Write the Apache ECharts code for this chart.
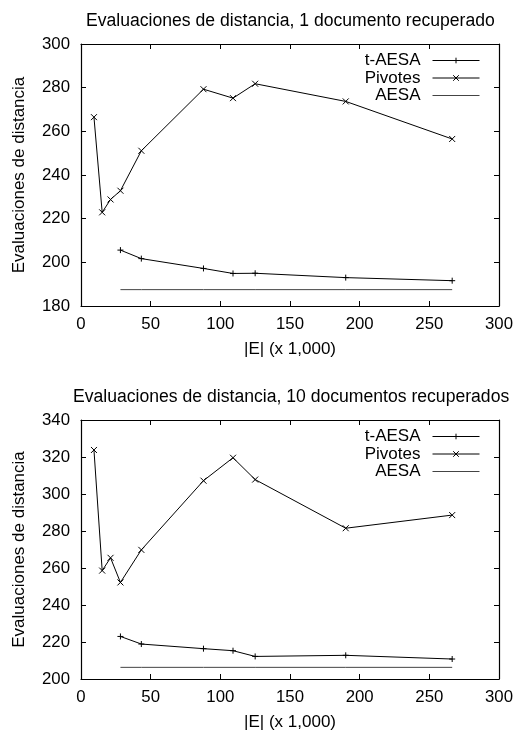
<!DOCTYPE html>
<html>
<head>
<meta charset="utf-8">
<script src="https://cdn.jsdelivr.net/npm/echarts@6/dist/echarts.min.js"></script>
<style>
  html, body { margin: 0; padding: 0; background: #fff; }
  #chart { width: 516px; height: 732px; }
</style>
</head>
<body>
<div id="chart"></div>
<script>
// |E| in thousands, for each run
const xPivotes = [9.3, 15.2, 21.2, 28.3, 43.3, 87.9, 109.1, 125, 190, 266.4];
const xTAesa = [28.3, 43.3, 87.9, 109.1, 125, 190, 266.4];

// 1 documento recuperado
const pivotes1 = [266.5, 222.9, 228.8, 232.8, 251.1, 279.3, 275.2, 281.8, 273.7, 256.5];
const tAesa1 = [205.6, 201.7, 197.2, 194.9, 195.0, 193.0, 191.6];
const aesa1 = [187.5, 187.5, 187.5, 187.5, 187.5, 187.5, 187.5];

// 10 documentos recuperados
const pivotes10 = [323.8, 258.6, 265.5, 252.2, 269.8, 307.2, 319.6, 307.8, 281.5, 288.6];
const tAesa10 = [223.0, 218.9, 216.4, 215.3, 212.2, 212.8, 210.8];
const aesa10 = [206.3, 206.3, 206.3, 206.3, 206.3, 206.3, 206.3];

const titles = [
  'Evaluaciones de distancia, 1 documento recuperado',
  'Evaluaciones de distancia, 10 documentos recuperados'
];
const xTicks = { min: 0, max: 300, interval: 50 };
const yTicks = [
  { min: 180, max: 300, interval: 20 },
  { min: 200, max: 340, interval: 20 }
];
const xName = '|E| (x 1,000)';
const yName = 'Evaluaciones de distancia';
const seriesNames = ['t-AESA', 'Pivotes', 'AESA'];

const FONT = 'Liberation Sans, Arial, Helvetica, sans-serif';
const FS = 17;
const TICK_FS = 16.8;
const BLACK = '#000';

const plusPath = 'path://M0,5L10,5M5,0L5,10';
const crossPath = 'path://M0,0L10,10M0,10L10,0';
// plain dash inside a 10x10 box, so the legend sample shows only the line
const dashPath = 'path://M0,0M0,5L10,5M10,10';

const grids = [
  { left: 81, right: 15, top: 44, height: 262 },
  { left: 81, right: 15, top: 420, height: 259 }
];

function pair(xs, ys) { return xs.map((x, i) => [x, ys[i]]); }

const xAxes = [];
const yAxes = [];
grids.forEach((g, gi) => {
  // bottom axis with labels, top mirror with ticks only
  xAxes.push({
    type: 'value', gridIndex: gi, position: 'bottom',
    min: xTicks.min, max: xTicks.max, interval: xTicks.interval,
    name: xName, nameLocation: 'middle', nameGap: 35,
    nameTextStyle: { color: BLACK, fontSize: FS, fontFamily: FONT },
    axisLine: { show: true, lineStyle: { color: BLACK, width: 1.2 } },
    axisTick: { show: true, inside: true, length: 5, lineStyle: { color: BLACK } },
    axisLabel: { color: BLACK, fontSize: TICK_FS, fontFamily: FONT, margin: 10 },
    splitLine: { show: false }
  });
  xAxes.push({
    type: 'value', gridIndex: gi, position: 'top',
    min: xTicks.min, max: xTicks.max, interval: xTicks.interval,
    axisLine: { show: true, onZero: false, lineStyle: { color: BLACK, width: 1.2 } },
    axisTick: { show: true, inside: true, length: 5, lineStyle: { color: BLACK } },
    axisLabel: { show: false },
    splitLine: { show: false }
  });
  // left axis with labels, right mirror with ticks only
  yAxes.push({
    type: 'value', gridIndex: gi, position: 'left',
    min: yTicks[gi].min, max: yTicks[gi].max, interval: yTicks[gi].interval,
    name: yName, nameLocation: 'middle', nameGap: 53, nameRotate: 90,
    nameTextStyle: { color: BLACK, fontSize: FS, fontFamily: FONT },
    axisLine: { show: true, onZero: false, lineStyle: { color: BLACK, width: 1.2 } },
    axisTick: { show: true, inside: true, length: 5, lineStyle: { color: BLACK } },
    axisLabel: { color: BLACK, fontSize: TICK_FS, fontFamily: FONT, margin: 11 },
    splitLine: { show: false }
  });
  yAxes.push({
    type: 'value', gridIndex: gi, position: 'right',
    min: yTicks[gi].min, max: yTicks[gi].max, interval: yTicks[gi].interval,
    axisLine: { show: true, onZero: false, lineStyle: { color: BLACK, width: 1.2 } },
    axisTick: { show: true, inside: true, length: 5, lineStyle: { color: BLACK } },
    axisLabel: { show: false },
    splitLine: { show: false }
  });
});

function lineSeries(name, data, gi, symbol, showSymbol, color) {
  return {
    name: name, type: 'line', data: data,
    xAxisIndex: gi * 2, yAxisIndex: gi * 2,
    symbol: symbol, symbolSize: 6, showSymbol: showSymbol,
    lineStyle: { color: color, width: 1 },
    itemStyle: { color: color, borderColor: color, borderWidth: 1 },
    emphasis: { disabled: true },
    z: 3
  };
}

const panels = [
  { t: tAesa1, p: pivotes1, a: aesa1 },
  { t: tAesa10, p: pivotes10, a: aesa10 }
];
const series = [];
panels.forEach((d, gi) => {
  series.push(lineSeries(seriesNames[0], pair(xTAesa, d.t), gi, plusPath, true, BLACK));
  series.push(lineSeries(seriesNames[1], pair(xPivotes, d.p), gi, crossPath, true, BLACK));
  series.push(lineSeries(seriesNames[2], pair(xTAesa, d.a), gi, dashPath, false, '#444'));
});

const legendTops = [52, 428];
const legends = legendTops.map(top => ({
  data: seriesNames, orient: 'vertical', align: 'right',
  right: 36, top: top, padding: 0,
  itemWidth: 47, itemHeight: 7, itemGap: 0.5,
  selectedMode: false,
  lineStyle: { width: 1 },
  itemStyle: { borderWidth: 1 },
  textStyle: { color: BLACK, fontSize: FS, fontFamily: FONT, lineHeight: 16,
               width: 72, align: 'right', padding: [0, 7, 0, 0] }
}));

// titles sit centred over the plot area
const titleLefts = [86, 73];
const titleTops = [12, 388];
const titleOpts = titles.map((text, i) => ({
  text: text, left: titleLefts[i], top: titleTops[i], padding: 0,
  textStyle: { color: BLACK, fontSize: 17.6, fontWeight: 'normal', fontFamily: FONT }
}));

const chart = echarts.init(document.getElementById('chart'), null, { renderer: 'canvas' });
chart.setOption({
  animation: false,
  backgroundColor: '#fff',
  title: titleOpts,
  legend: legends,
  grid: grids,
  xAxis: xAxes,
  yAxis: yAxes,
  series: series
});
</script>
</body>
</html>
